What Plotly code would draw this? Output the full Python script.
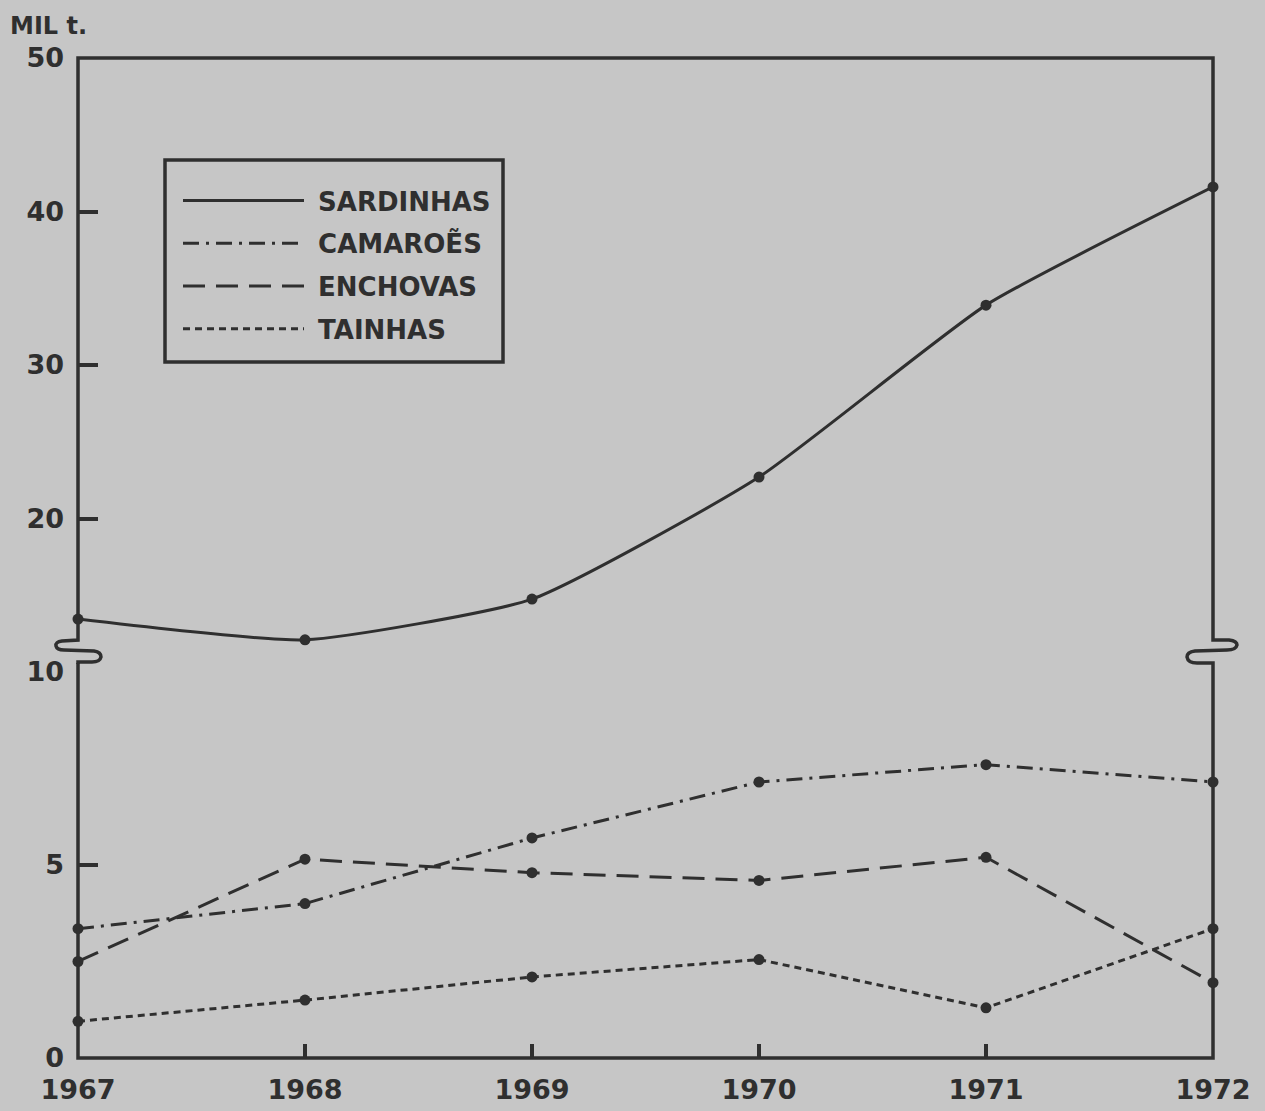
import plotly.graph_objects as go

years = [1967, 1968, 1969, 1970, 1971, 1972]
sardinhas = [13.45, 12.1, 14.75, 22.7, 33.9, 41.6]
camaroes = [3.35, 4.0, 5.7, 7.15, 7.6, 7.15]
enchovas = [2.5, 5.15, 4.8, 4.6, 5.2, 1.95]
tainhas = [0.95, 1.5, 2.1, 2.55, 1.3, 3.35]

names = ["SARDINHAS", "CAMAROẼS", "ENCHOVAS", "TAINHAS"]
lower_ticks = [0, 5, 10]
upper_ticks = [20, 30, 40, 50]

INK = "#2f2f2f"
BG = "#c6c6c6"
FONT = "DejaVu Sans"

W, H = 1265, 1111
L, R, T, B = 78, 52, 58, 53
PW, PH = W - L - R, H - T - B
Y10 = 672  # pixel row where lower and upper panels meet
split = (H - B - Y10) / PH

def px(X, Y):
    return (X - L) / PW, (H - B - Y) / PH

def path(cmds):
    out = []
    for c in cmds:
        s = c[0]
        for (X, Y) in c[1:]:
            a, b = px(X, Y)
            s += f" {a:.5f},{b:.5f}"
        out.append(s)
    return " ".join(out)

fig = go.Figure()

PAD = "\u00a0"
series = [
    (names[0], sardinhas, "solid", "y2", "spline"),
    (names[1], camaroes, "16px,7px,3px,7px", "y", "linear"),
    (names[2], enchovas, "22px,11px", "y", "linear"),
    (names[3], tainhas, "7px,5px", "y", "linear"),
]
for i, (nm, vals, dash, yax, shape) in enumerate(series):
    fig.add_trace(go.Scatter(
        x=years, y=vals, name=PAD + nm, mode="lines", yaxis=yax,
        line=dict(color=INK, width=3, dash=dash, shape=shape, smoothing=0.5),
        legendgroup=f"g{i}",
    ))
    fig.add_trace(go.Scatter(
        x=years, y=vals, mode="markers", yaxis=yax, showlegend=False,
        marker=dict(color=INK, size=11), cliponaxis=False, hoverinfo="skip",
    ))

shapes = []
line = dict(color=INK, width=3.5)
# frame
shapes.append(dict(type="path", xref="paper", yref="paper", line=line,
                   path=path([("M", (L, 636)), ("L", (L, T)), ("L", (W - R, T)), ("L", (W - R, 638))])))
shapes.append(dict(type="path", xref="paper", yref="paper", line=line,
                   path=path([("M", (L, 663)), ("L", (L, H - B)), ("L", (W - R, H - B)), ("L", (W - R, 664))])))
# left axis break
shapes.append(dict(type="path", xref="paper", yref="paper", line=line,
                   path=path([("M", (L, 636)), ("L", (L, 640)), ("L", (62, 641)),
                              ("Q", (55, 642), (56, 646)), ("Q", (57, 650), (64, 650)),
                              ("L", (94, 651)), ("Q", (101, 652), (101, 657)),
                              ("Q", (100, 662), (92, 662)), ("L", (L, 662)), ("L", (L, 664))])))
# right axis break
rx = W - R
shapes.append(dict(type="path", xref="paper", yref="paper", line=line,
                   path=path([("M", (rx, 638)), ("L", (rx, 640)), ("L", (rx + 16, 640)),
                              ("Q", (rx + 24, 641), (rx + 24, 645)), ("Q", (rx + 23, 650), (rx + 14, 650)),
                              ("L", (rx - 18, 651)), ("Q", (rx - 26, 652), (rx - 26, 657)),
                              ("Q", (rx - 25, 663), (rx - 16, 663)), ("L", (rx, 663)), ("L", (rx, 664))])))
# legend box
x0, y0 = px(165, 362)
x1, y1 = px(503, 160)
shapes.append(dict(type="rect", xref="paper", yref="paper", x0=x0, y0=y0, x1=x1, y1=y1,
                   line=dict(color=INK, width=3.5)))

tf = dict(family=FONT, size=27, color=INK, weight="bold")
yax_common = dict(ticks="inside", ticklen=20, tickwidth=4, tickcolor=INK,
                  showgrid=False, zeroline=False, showline=False, automargin=False,
                  tickfont=tf, anchor="x", ticklabelstandoff=13)
fig.update_layout(
    width=W, height=H,
    margin=dict(l=L, r=R, t=T, b=B, autoexpand=False),
    paper_bgcolor=BG, plot_bgcolor=BG,
    font=dict(family=FONT, color=INK),
    shapes=shapes,
    showlegend=True,
    legend=dict(
        x=(178 - L) / PW, y=(H - B - 177) / PH, xanchor="left", yanchor="top",
        bgcolor="rgba(0,0,0,0)", borderwidth=0,
        font=dict(family=FONT, size=26, color=INK, weight="bold"),
        itemwidth=121, traceorder="grouped", tracegroupgap=6,
    ),
    xaxis=dict(range=[1967, 1972], tickvals=years, ticktext=[str(y) for y in years],
               ticks="inside", ticklen=14, tickwidth=4, tickcolor=INK,
               showgrid=False, zeroline=False, showline=False, automargin=False,
               tickfont=tf, anchor="y", ticklabelstandoff=13),
    yaxis=dict(domain=[0, split], range=[0, 10], tickvals=lower_ticks, **yax_common),
    yaxis2=dict(domain=[split, 1], range=[10, 50], tickvals=upper_ticks, **yax_common),
    annotations=[dict(text="MIL t.", xref="paper", yref="paper", x=px(8, 0)[0], y=px(0, 10)[1],
                      xanchor="left", yanchor="top", showarrow=False,
                      font=dict(family=FONT, size=24, color=INK, weight="bold"))],
)

fig.write_html("out.html", config={"displayModeBar": False},
               post_script="document.body.style.margin='0';")
